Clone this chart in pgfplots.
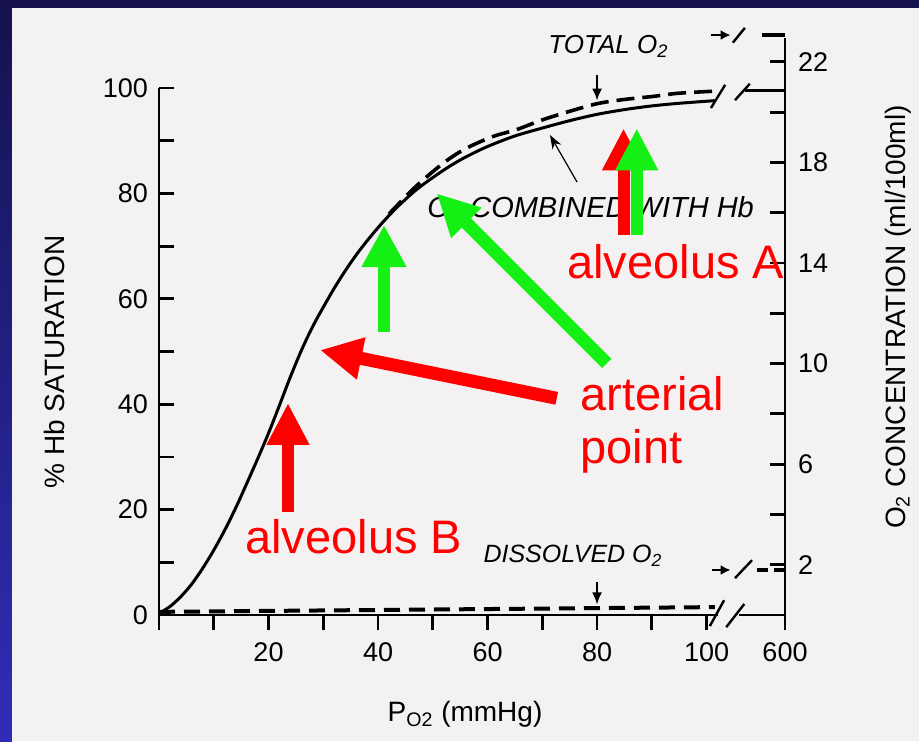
\documentclass[border=0pt]{standalone}
\usepackage{pgfplots}
\pgfplotsset{compat=1.18}
\usepackage{fontspec}
\setmainfont{Liberation Sans}
\usetikzlibrary{arrows.meta}
\definecolor{paper}{HTML}{F4F1F2}
\definecolor{navy}{HTML}{15124E}
\definecolor{bluebot}{HTML}{2F2DB8}
\definecolor{ared}{HTML}{FF0000}
\definecolor{agreen}{HTML}{14F014}
\pgfplotsset{base/.style={scale only axis, at={(0pt,0pt)}, anchor=south west,
  width=313pt, xmin=0, xmax=114.33, clip=false,
  tick style={line width=1.4pt, black},
  major tick length=7.5pt, minor tick length=7.5pt,
  tick label style={font=\fontsize{13.5}{16}\selectfont}}}
\begin{document}
\begin{tikzpicture}
\path[use as bounding box] (-79.5pt,-63pt) rectangle (380pt,307.5pt);
\fill[paper] (-79.5pt,-63pt) rectangle (380pt,307.5pt);
\shade[top color=navy, bottom color=bluebot] (-79.5pt,-63pt) rectangle (-73.5pt,307.5pt);
\fill[navy] (-79.5pt,303.5pt) rectangle (380pt,307.5pt);

% right axis (ml/100ml)
\begin{axis}[base, height=288.5pt, ymin=0, ymax=22.95,
  axis x line=none, axis y line*=right,
  y axis line style={line width=1.4pt},
  ytick={2,6,10,14,18,22}, yticklabels={2,6,10,14,18,22},
  minor ytick={4,8,12,16,20}, tick align=inside,
  yticklabel style={xshift=3pt},
  ylabel={O\textsubscript{2} CONCENTRATION (ml/100ml)},
  every axis y label/.style={at={(axis description cs:1.1805,0.5165)}, rotate=90, anchor=center, font=\fontsize{14}{16}\selectfont}]
\addplot[black, line width=1.5pt] coordinates {(107,20.88) (114.33,20.88)};
\addplot[black, line width=1.8pt] coordinates {(110.1,23.07) (114.33,23.07)};
\addplot[black, line width=2pt, dash pattern=on 5.5pt off 3pt] coordinates {(109.2,1.79) (114.33,1.79)};
\end{axis}

% left axis (% saturation)
\begin{axis}[base, height=263.5pt, ymin=0, ymax=100,
  axis x line=none, axis y line*=left,
  y axis line style={line width=1.4pt},
  ytick={0,20,40,60,80,100}, yticklabels={0,20,40,60,80,100},
  minor ytick={10,30,50,70,90}, tick align=inside,
  yticklabel style={xshift=-2pt},
  ylabel={\% Hb SATURATION},
  every axis y label/.style={at={(axis description cs:-0.1677,0.48)}, rotate=90, anchor=center, font=\fontsize{14}{16}\selectfont}]
\end{axis}

% x axis, curves and annotations
\begin{axis}[base, height=263.5pt, ymin=0, ymax=100,
  axis y line=none, axis x line*=bottom,
  x axis line style={draw=none},
  xtick={20,40,60,80,100,114.33}, xticklabels={20,40,60,80,100,600},
  minor xtick={0,10,30,50,70,90}, tick align=outside,
  xticklabel style={yshift=-3pt},
  xlabel={P\textsubscript{O2} (mmHg)},
  every axis x label/.style={at={(axis description cs:0.4888,-0.203)}, anchor=base, font=\fontsize{14}{16}\selectfont}]
% O2 combined with Hb
\addplot[black, line width=1.5pt, smooth] coordinates {
(0,0.3) (2,1.6) (4,3.5) (6,5.9) (8,8.9) (10,12.3) (12,16.1) (14,20.3)
(16,24.9) (18,29.6) (20,34.5) (22,39.8) (24,45.2) (26,50.2) (28,54.6)
(30,58.4) (32,62) (34,65.3) (36,68.3) (38,71) (40,73.5) (42,75.8)
(44,77.9) (47,80.7) (50,83.0) (53,85.1) (56,86.9) (60,88.9) (65,90.9)
(70,92.4) (75,93.8) (80,95.0) (85,95.9) (90,96.6) (95,97.1) (101.5,97.6)};
% total O2
\addplot[black, line width=1.8pt, dash pattern=on 9pt off 4pt, smooth] coordinates {
(42,76.1) (47,81.4) (52,85.8) (56,88.5) (61,90.8) (65.3,92.1) (69.6,93.8)
(74.1,95.3) (79.9,97.0) (84.8,97.8) (90.2,98.4) (94.8,99.0) (101.5,99.4)};
% dissolved O2
\addplot[black, line width=2pt, dash pattern=on 8pt off 4.5pt] coordinates {(0,0.6) (101.5,1.5)};

% x axis line with break
\draw[line width=1.4pt] (axis cs:0,0) -- (axis cs:102,0);
\draw[line width=1.4pt] (axis cs:106,0) -- (axis cs:114.33,0);
\draw[line width=1.2pt] (axis cs:100.6,-2.1) -- (axis cs:103.2,2.8);
\draw[line width=1.2pt] (axis cs:103.6,-2.3) -- (axis cs:106.9,2.1);
% break on the curves
\draw[line width=1.2pt] (axis cs:100.8,96.2) -- (axis cs:103.4,100.6);
\draw[line width=1.2pt] (axis cs:105.2,97.7) -- (axis cs:107.9,100.8);
% total O2 at 600
\draw[line width=1.2pt, -{Latex[length=5pt,width=5pt]}] (axis cs:100.8,110.05) -- (axis cs:104.4,110.05);
\draw[line width=1.2pt] (axis cs:104.8,108.6) -- (axis cs:107.0,111.4);
% dissolved O2 at 600
\draw[line width=1.2pt, -{Latex[length=5pt,width=5pt]}] (axis cs:101,8.54) -- (axis cs:104.4,8.54);
\draw[line width=1.2pt] (axis cs:105.2,7.0) -- (axis cs:108.3,10.4);

% black labels
\node[anchor=base west, inner sep=0, font=\fontsize{13}{15}\selectfont\itshape] at (axis cs:71.05,106.6) {TOTAL O\textsubscript{2}};
\node[anchor=base west, inner sep=0, font=\fontsize{12.5}{15}\selectfont\itshape] at (axis cs:59.2,9.87) {DISSOLVED O\textsubscript{2}};
\node[anchor=base west, inner sep=0, font=\fontsize{14.5}{16}\selectfont\itshape] at (axis cs:48.95,75.5) {O\textsubscript{2} COMBINED WITH Hb};
\draw[line width=1pt, -{Latex[length=6pt,width=5pt]}] (axis cs:80,102.5) -- (axis cs:80,97.6);
\draw[line width=1pt, -{Latex[length=6pt,width=5pt]}] (axis cs:80,6.26) -- (axis cs:80,2.0);
\draw[line width=0.6pt, -{Stealth[length=7pt,width=5pt]}] (axis cs:76.35,82.16) -- (axis cs:71.4,91.08);

% coloured block arrows
\draw[ared, line width=6pt, -{Triangle[width=20pt,length=21pt]}] (axis cs:23.56,19.54) -- (axis cs:23.56,40.23);
\draw[ared, line width=6.5pt, -{Triangle[width=20pt,length=21pt]}] (axis cs:72.64,41.12) -- (axis cs:29.41,50.28);
\draw[agreen, line width=6pt, -{Triangle[width=21pt,length=21pt]}] (axis cs:41.10,53.76) -- (axis cs:41.10,74.0);
\draw[agreen, line width=6.5pt, -{Triangle[width=20pt,length=21pt]}] (axis cs:81.77,47.76) -- (axis cs:50.72,80.02);
\draw[ared, line width=6pt, -{Triangle[width=20pt,length=21pt]}] (axis cs:84.84,72.1) -- (axis cs:84.84,92.35);
\draw[agreen, line width=6pt, -{Triangle[width=20pt,length=21pt]}] (axis cs:87.25,72.1) -- (axis cs:87.25,92.35);

% red text
\node[anchor=base west, inner sep=0, text=ared, font=\fontsize{23.5}{26}\selectfont] at (axis cs:15.7,11.76) {alveolus B};
\node[anchor=base west, inner sep=0, text=ared, font=\fontsize{23.5}{26}\selectfont] at (axis cs:74.5,63.76) {alveolus A};
\node[anchor=base west, inner sep=0, text=ared, font=\fontsize{23.5}{26}\selectfont] at (axis cs:76.9,38.9) {arterial};
\node[anchor=base west, inner sep=0, text=ared, font=\fontsize{23.5}{26}\selectfont] at (axis cs:76.9,28.84) {point};
\end{axis}
\end{tikzpicture}
\end{document}
